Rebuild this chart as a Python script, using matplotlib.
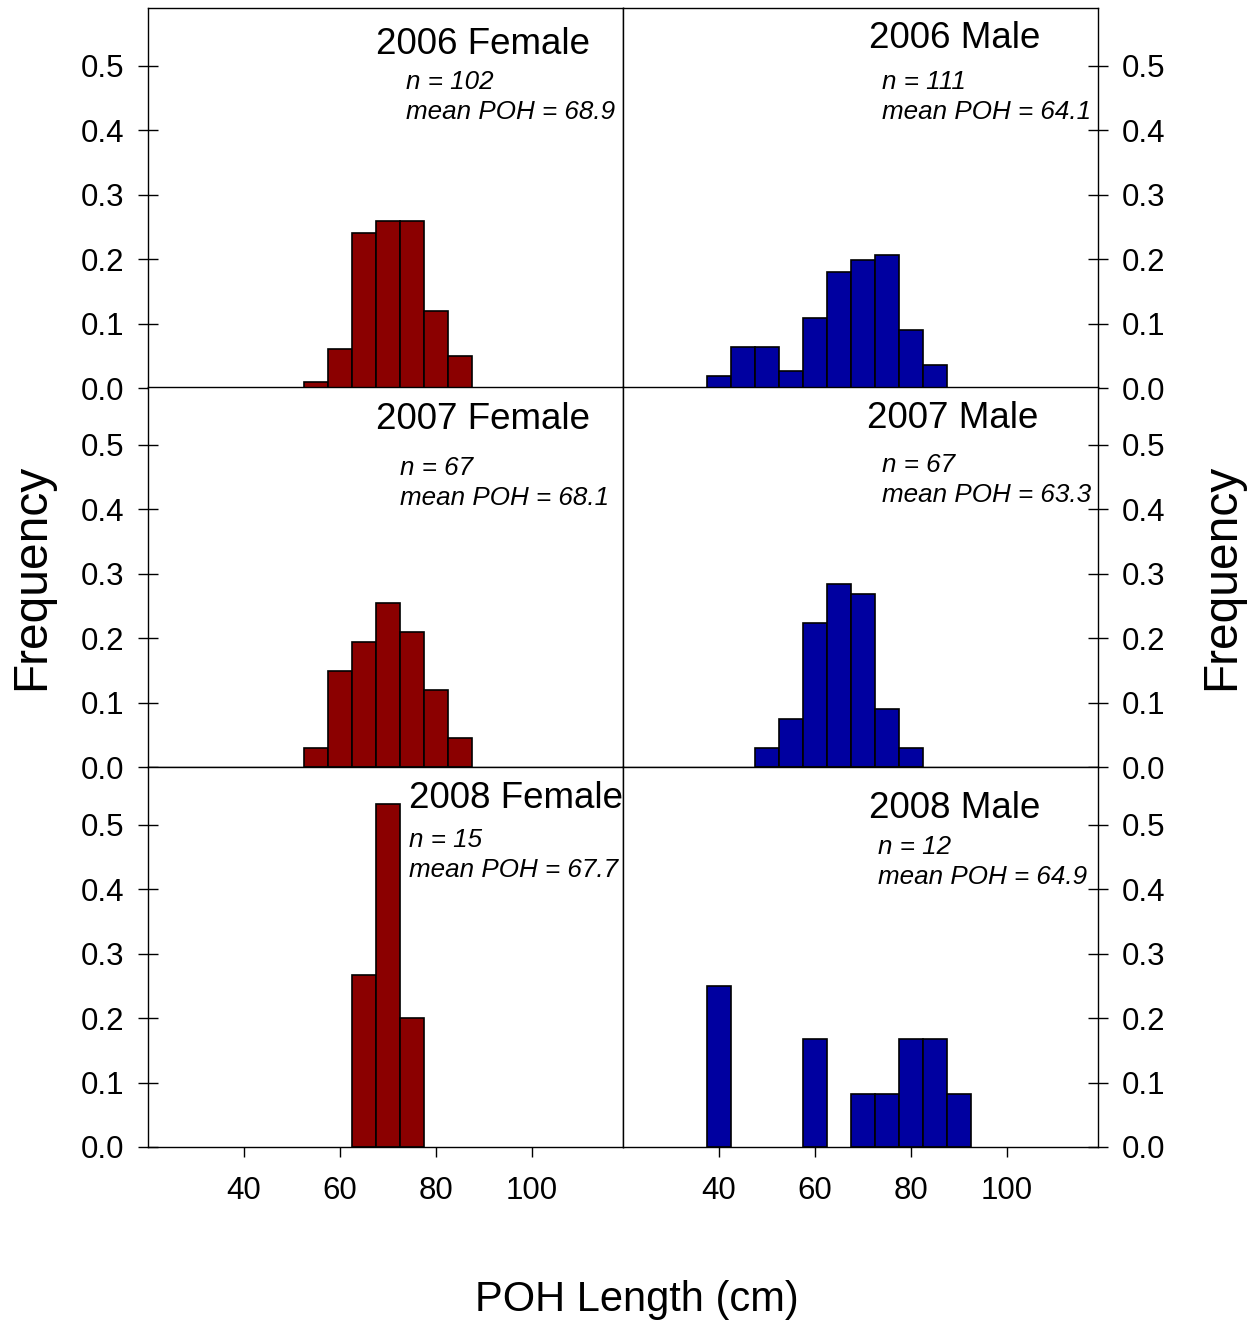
import numpy as np
import matplotlib.pyplot as plt

plt.rcParams['font.family'] = ['Liberation Sans', 'DejaVu Sans']

# bin centres (cm) and relative frequencies
f06_x = [55, 60, 65, 70, 75, 80, 85]
f06_y = [0.01, 0.06, 0.24, 0.26, 0.26, 0.12, 0.05]
m06_x = [40, 45, 50, 55, 60, 65, 70, 75, 80, 85]
m06_y = [0.018, 0.063, 0.063, 0.027, 0.108, 0.18, 0.198, 0.207, 0.09, 0.036]
f07_x = [55, 60, 65, 70, 75, 80, 85]
f07_y = [0.03, 0.149, 0.194, 0.254, 0.209, 0.119, 0.045]
m07_x = [50, 55, 60, 65, 70, 75, 80]
m07_y = [0.03, 0.075, 0.224, 0.284, 0.269, 0.09, 0.03]
f08_x = [65, 70, 75]
f08_y = [0.267, 0.533, 0.2]
m08_x = [40, 60, 70, 75, 80, 85, 90]
m08_y = [0.25, 0.167, 0.083, 0.083, 0.167, 0.167, 0.083]

titles = ['2006 Female', '2006 Male', '2007 Female', '2007 Male', '2008 Female', '2008 Male']
n_vals = [102, 111, 67, 67, 15, 12]
means = [68.9, 64.1, 68.1, 63.3, 67.7, 64.9]

yticks = [0.0, 0.1, 0.2, 0.3, 0.4, 0.5]
xticks = [40, 60, 80, 100]

red = '#8B0000'
blue = '#0000A0'

W, H = 1255, 1325
fig = plt.figure(figsize=(W / 100, H / 100), dpi=100)

def px(x, y):
    return x / W, 1 - y / H

data = [(f06_x, f06_y), (m06_x, m06_y), (f07_x, f07_y),
        (m07_x, m07_y), (f08_x, f08_y), (m08_x, m08_y)]

col_left = [148, 623]
row_top = [8, 387, 767]
ax_w, ax_h = 475, 380

for i, (xs, ys) in enumerate(data):
    r, c = divmod(i, 2)
    x0, y1 = px(col_left[c], row_top[r] + ax_h)
    ax = fig.add_axes([x0, y1, ax_w / W, ax_h / H])
    ax.bar(xs, ys, width=5, color=red if c == 0 else blue,
           edgecolor='black', linewidth=1.2)
    ax.set_xlim(20, 119)
    ax.set_ylim(0, 0.59)
    ax.set_xticks(xticks)
    ax.set_yticks(yticks, labels=[f'{v:.1f}' for v in yticks])
    ax.tick_params(axis='x', direction='out', length=7, width=1, labelsize=22.5, pad=14,
                   labelbottom=(r == 2))
    if c == 1:
        ax.yaxis.tick_right()
    ax.tick_params(axis='y', direction='inout', length=14, width=1, labelsize=22.5, pad=10)
    for s in ax.spines.values():
        s.set_linewidth(1)

# panel annotations
title_pos = [(483, 44), (955, 38), (483, 420), (953, 418), (516, 799), (955, 808)]
stat_pos = [(406, 82), (882, 82), (400, 468), (882, 465), (409, 840), (878, 847)]
for i in range(6):
    tx, ty = px(*title_pos[i])
    fig.text(tx, ty, titles[i], fontsize=26.5, ha='center', va='center')
    sx, sy = px(*stat_pos[i])
    fig.text(sx, sy, f'n = {n_vals[i]}', fontsize=18.7, style='italic', ha='left', va='center')
    sx, sy = px(stat_pos[i][0], stat_pos[i][1] + 30)
    fig.text(sx, sy, f'mean POH = {means[i]}', fontsize=18.7, style='italic', ha='left', va='center')

lx, ly = px(32, 577)
fig.text(lx, ly, 'Frequency', fontsize=34.5, rotation=90, ha='center', va='center')
rx, ry = px(1222, 577)
fig.text(rx, ry, 'Frequency', fontsize=34.5, rotation=90, ha='center', va='center')
bx, by = px(637, 1300)
fig.text(bx, by, 'POH Length (cm)', fontsize=30, ha='center', va='center')

fig.savefig('out.png', dpi=100)
